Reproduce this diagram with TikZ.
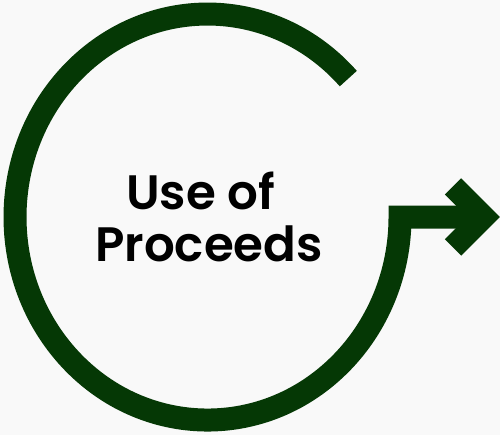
\documentclass[tikz,border=0pt]{standalone}
\usepackage{fontspec}
\setmainfont{Poppins}[BoldFont={Poppins SemiBold}]
\usepackage{xcolor}
\definecolor{ringgreen}{RGB}{5,56,5}
\definecolor{pagebg}{RGB}{249,249,249}
\usetikzlibrary{positioning}

\tikzset{
  ring/.style={draw=ringgreen, line width=0.46cm, line join=miter, line cap=butt},
  title/.style={font=\fontsize{27.5}{30}\selectfont\bfseries, align=center, text=black}
}

\begin{document}
\begin{tikzpicture}[x=0.02cm, y=0.02cm]
\useasboundingbox (0,0) rectangle (500,435);
\fill[pagebg] (0,0) rectangle (500,435);

% --- Centre label ---
\node[title] (label) at (209,218) {Use of\kern9.6pt\\Proceeds};

% --- Ring with outgoing shaft ---
\coordinate (ringstart) at (348.3,356.4);
\coordinate (shaftend) at (475,218);
\draw[ring] (ringstart) arc[start angle=43, end angle=360, x radius=192.5, y radius=203]
      -- (shaftend);

% --- Arrow head ---
\coordinate (headtop) at (453,248.5);
\coordinate (headtip) at (483.5,218);
\coordinate (headbot) at (453,187.5);
\draw[ring] (headtop) -- (headtip) -- (headbot);

\end{tikzpicture}
\end{document}
